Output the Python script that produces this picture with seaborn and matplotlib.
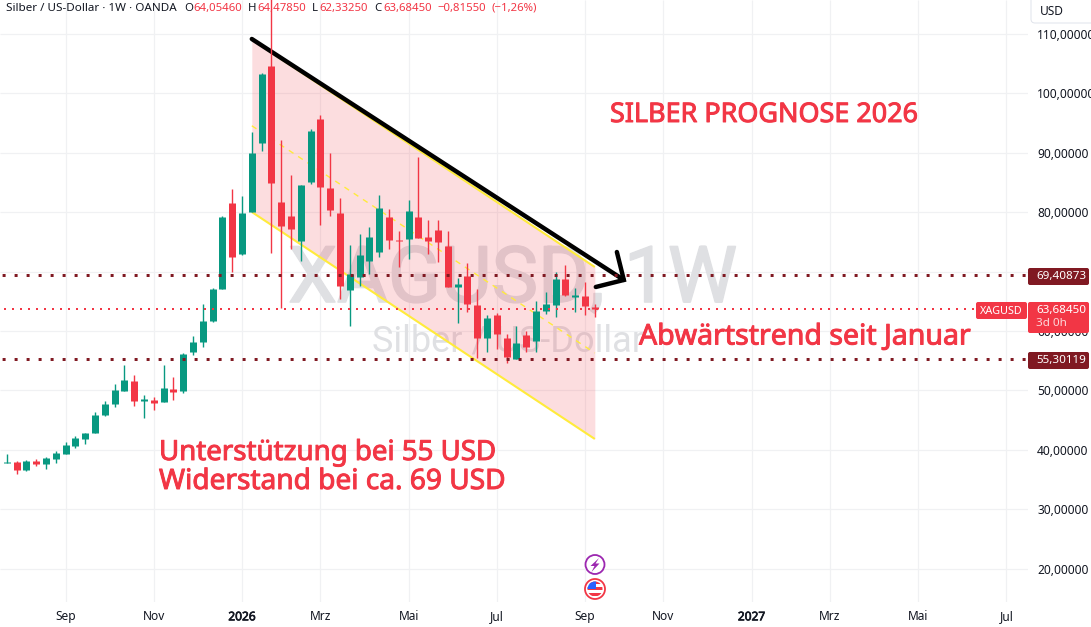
import pandas as pd
import seaborn as sns
import matplotlib.pyplot as plt
import matplotlib.patheffects as pe
from matplotlib.patches import Circle, FancyBboxPatch, Polygon, Rectangle

# weekly XAG/USD candles
opens = [38.28, 37.77, 37.94, 36.60, 38.11, 37.61, 38.45, 39.29, 40.64, 41.81, 42.82,
         45.85, 47.71, 49.89, 51.58, 48.21, 48.38, 48.04, 50.23, 49.89, 56.46, 58.14,
         61.68, 67.07, 81.54, 72.96, 80.03, 91.65, 104.61, 81.71, 79.36, 75.15, 85.08,
         95.69, 84.07, 79.86, 66.90, 69.09, 71.78, 73.30, 79.19, 75.32, 75.48, 79.19,
         75.82, 77.00, 74.31, 67.40, 69.26, 64.37, 58.82, 62.69, 58.82, 55.28, 59.32,
         58.31, 63.36, 64.37, 68.75, 65.72, 65.89, 64.05]
highs = [38.45, 39.29, 38.11, 38.28, 38.45, 38.78, 39.79, 41.31, 42.32, 42.82, 46.36,
         48.21, 51.07, 54.27, 52.59, 49.22, 48.89, 54.27, 52.25, 56.29, 59.15, 64.54,
         67.24, 79.36, 83.90, 82.72, 93.50, 103.43, 121.00, 92.15, 86.26, 84.58, 94.00,
         96.36, 89.96, 82.39, 74.47, 76.33, 77.50, 82.89, 80.53, 76.83, 82.05, 89.29,
         78.68, 78.68, 76.83, 68.92, 71.44, 67.07, 62.69, 63.03, 59.49, 60.84, 59.99,
         65.05, 66.56, 69.93, 71.11, 67.24, 68.25, 64.48]
lows = [37.61, 37.77, 35.92, 36.43, 37.27, 36.76, 37.77, 39.29, 40.30, 40.97, 42.82,
        45.69, 47.20, 49.89, 47.37, 45.35, 46.70, 48.04, 48.38, 49.56, 55.96, 57.30,
        61.51, 67.07, 69.93, 72.79, 80.03, 90.30, 73.13, 63.87, 73.80, 71.78, 84.74,
        77.84, 79.36, 65.38, 60.84, 67.57, 69.59, 72.45, 73.80, 70.77, 72.12, 75.65,
        72.96, 71.61, 67.40, 61.34, 63.20, 55.45, 56.46, 56.97, 54.61, 55.28, 56.46,
        56.46, 62.86, 62.35, 65.89, 63.20, 62.69, 62.33]
closes = [37.77, 37.94, 36.60, 38.11, 37.61, 38.62, 39.46, 40.80, 41.98, 42.82, 45.85,
          47.71, 50.06, 51.75, 48.21, 48.55, 47.88, 50.40, 49.73, 56.12, 58.14, 61.68,
          67.07, 79.19, 72.45, 79.86, 89.96, 103.26, 84.91, 77.67, 77.17, 84.58, 93.67,
          84.24, 80.37, 67.57, 69.59, 72.79, 75.82, 80.70, 75.32, 75.15, 80.20, 75.65,
          75.15, 74.98, 67.40, 67.91, 64.54, 58.82, 62.18, 59.49, 55.62, 57.98, 57.30,
          63.36, 64.54, 68.75, 66.06, 66.06, 64.20, 63.68]

# price axis and time axis
price_ticks = [20, 30, 40, 50, 60, 70, 80, 90, 100, 110]
month_weeks = [7, 16, 25, 33, 42, 51, 60, 68, 77, 85, 94, 103]
month_labels = ["Sep", "Nov", "2026", "Mrz", "Mai", "Jul", "Sep", "Nov", "2027", "Mrz", "Mai", "Jul"]

# drawings on the chart
channel_weeks = [26, 61]
channel_top = [109.06, 70.77]
channel_mid = [94.55, 56.30]
channel_bottom = [80.03, 41.82]
trend_weeks = [26, 63.96]
trend_prices = [109.16, 68.59]
arrow_weeks = [63.25, 63.96, 61.1]
arrow_prices = [73.3, 68.59, 67.41]
resistance = 69.40873
support = 55.30119
last_price = 63.6845

RED = "#F23645"
GREEN = "#089981"
DARK_RED = "#801922"
TEXT = "#131722"
GRID = "#F0F1F3"
MARK = "#DFE0E3"

sns.set_theme(style="white", rc={"lines.solid_capstyle": "butt", "lines.dash_capstyle": "butt"})
plt.rcParams["font.family"] = ["Noto Sans", "DejaVu Sans"]

candles = pd.DataFrame({"week": range(len(opens)), "open": opens, "high": highs,
                        "low": lows, "close": closes})
candles["dir"] = ["up" if c >= o else "down" for o, c in zip(opens, closes)]
palette = {"up": GREEN, "down": RED}

wicks = candles.melt(id_vars=["week", "dir"], value_vars=["low", "high"], value_name="price")
bodies = candles.melt(id_vars=["week", "dir"], value_vars=["open", "close"], value_name="price")

fig = plt.figure(figsize=(10.91, 6.27), dpi=100)
ax = fig.add_axes([0, 1 - 602 / 627, 1028 / 1091, 602 / 627])

# channel first, candles sit on top of it
ax.fill_between(channel_weeks, channel_bottom, channel_top, color=RED, alpha=0.17, lw=0, zorder=2)
ax.plot(channel_weeks, channel_top, color="#FFEB3B", lw=1.5, zorder=2.5)
ax.plot(channel_weeks, channel_bottom, color="#FFEB3B", lw=1.5, zorder=2.5)
ax.plot(channel_weeks, channel_mid, color="#FFEB3B", lw=1, ls=(0, (4, 4)), zorder=2.5)
ax.plot(trend_weeks, trend_prices, color="black", lw=3.2, solid_capstyle="round", zorder=2.7)

sns.lineplot(data=wicks, x="week", y="price", units="week", hue="dir", estimator=None, sort=False,
             palette=palette, legend=False, lw=1.0, zorder=3, ax=ax)
sns.lineplot(data=bodies, x="week", y="price", units="week", hue="dir", estimator=None, sort=False,
             palette=palette, legend=False, lw=5.04, zorder=3.1, ax=ax)

ax.plot(arrow_weeks, arrow_prices, color="black", lw=3.2, solid_capstyle="round",
        solid_joinstyle="miter", zorder=3.2)

ax.axhline(resistance, color=DARK_RED, lw=2.16, ls=(3.3, (1, 3)), zorder=4)
ax.axhline(support, color=DARK_RED, lw=2.16, ls=(3.3, (1, 3)), zorder=4)
ax.axhline(last_price, color=RED, lw=1.44, ls=(2, (1, 3)), zorder=4)

# left edge of the picture cuts the first candle
ax.set_xlim(0.306, 105.2)
ax.set_ylim(14.38, 115.72)
ax.set_xlabel("")
ax.set_ylabel("")
for s in ax.spines.values():
    s.set_visible(False)

ax.set_axisbelow(True)
ax.grid(True, color=GRID, lw=0.9)
ax.set_xticks(month_weeks)
ax.set_xticklabels(month_labels, fontsize=8.6, color=TEXT)
for lab in ax.get_xticklabels():
    if lab.get_text().startswith("20"):
        lab.set_path_effects([pe.withStroke(linewidth=0.5, foreground=TEXT)])
ax.yaxis.tick_right()
ax.set_yticks(price_ticks)
ax.set_yticklabels([f"{p},00000" for p in price_ticks], fontsize=8.6, color=TEXT)
ax.tick_params(axis="y", length=0, pad=6.5)
ax.tick_params(axis="x", length=0, pad=6)

# watermark below everything in the plot
ax.text(288 / 1028, 1 - 302 / 602, "XAGUSD, 1W", transform=ax.transAxes, fontsize=56.2, color=MARK,
        family="Roboto", va="baseline", ha="left", zorder=1,
        path_effects=[pe.withStroke(linewidth=1.2, foreground=MARK)])
ax.text(372 / 1028, 1 - 352 / 602, "Silber / US-Dollar", transform=ax.transAxes, fontsize=26, color=MARK,
        family="Roboto", va="baseline", ha="left", zorder=1)

# overlay in picture pixels for header, text notes and price tags
ov = fig.add_axes([0, 0, 1, 1])
ov.set_xlim(0, 1091)
ov.set_ylim(627, 0)
ov.axis("off")
ov.patch.set_alpha(0)


def tag(x0, y0, x1, y1, color):
    ov.add_patch(FancyBboxPatch((x0, y0), x1 - x0, y1 - y0, fc=color, ec="none",
                                boxstyle="round,pad=0,rounding_size=2"))


ov.add_patch(FancyBboxPatch((1031, -8), 80, 31, fc="white", ec="#E0E3EB", lw=0.7,
                            boxstyle="round,pad=0,rounding_size=4"))
ov.text(1040, 11.5, "USD", fontsize=8.6, color=TEXT, va="center")

tag(1028, 268, 1089, 285, DARK_RED)
ov.text(1036, 276, "69,40873", fontsize=8.4, color="white", va="center")
tag(1028, 352, 1089, 369, DARK_RED)
ov.text(1036, 360, "55,30119", fontsize=8.4, color="white", va="center")
tag(976, 302, 1027, 319, RED)
ov.text(980, 311, "XAGUSD", fontsize=7.8, color="white", va="center")
tag(1028, 302, 1089, 333, RED)
ov.text(1036, 310, "63,68450", fontsize=8.4, color="white", va="center")
ov.text(1036, 324, "3d 0h", fontsize=8.4, color="#FFFFFFCC", va="center")

ov.text(6, 8.5, "Silber / US-Dollar · 1W · OANDA", fontsize=8.4, color=TEXT, va="center")
for x, s, c in [(184, "O", TEXT), (193, "64,05460", RED), (248, "H", TEXT), (257, "64,47850", RED),
                (312, "L", TEXT), (319, "62,33250", RED), (374, "C", TEXT), (383, "63,68450", RED),
                (437, "−0,81550", RED), (491, "(−1,26%)", RED)]:
    ov.text(x, 8.5, s, fontsize=8.2, color=c, va="center")

bold_ish = [pe.withStroke(linewidth=0.7, foreground=RED)]
ov.text(610, 115, "SILBER PROGNOSE 2026", fontsize=19.4, color=RED, va="center", path_effects=bold_ish)
ov.text(639, 337, "Abwärtstrend seit Januar", fontsize=20.5, color=RED, va="center", path_effects=bold_ish)
ov.text(159, 453, "Unterstützung bei 55 USD", fontsize=19.9, color=RED, va="center", path_effects=bold_ish)
ov.text(159, 482, "Widerstand bei ca. 69 USD", fontsize=20.2, color=RED, va="center", path_effects=bold_ish)

# event icons at the bottom
ov.add_patch(Circle((595, 564.5), 9.5, fc="white", ec="#9C27B0", lw=1.3))
ov.add_patch(Polygon([(599, 558), (590.5, 566), (594.5, 566), (591.5, 572), (599.5, 563.5), (595.5, 563.5)],
                     fc="#9C27B0", ec="none"))
ring = Circle((595, 589), 10, fc="white", ec=RED, lw=1.3)
ov.add_patch(ring)
inner = Circle((595, 589), 7.5, transform=ov.transData)
for i, y0 in enumerate(range(581, 598, 3)):
    st = Rectangle((587, y0), 16, 3, fc=RED if i % 2 == 0 else "white", ec="none")
    ov.add_patch(st)
    st.set_clip_path(inner)
canton = Rectangle((587, 581), 9, 8, fc="#2962FF", ec="none")
ov.add_patch(canton)
canton.set_clip_path(inner)

fig.savefig("out.png", dpi=100)
plt.close()
